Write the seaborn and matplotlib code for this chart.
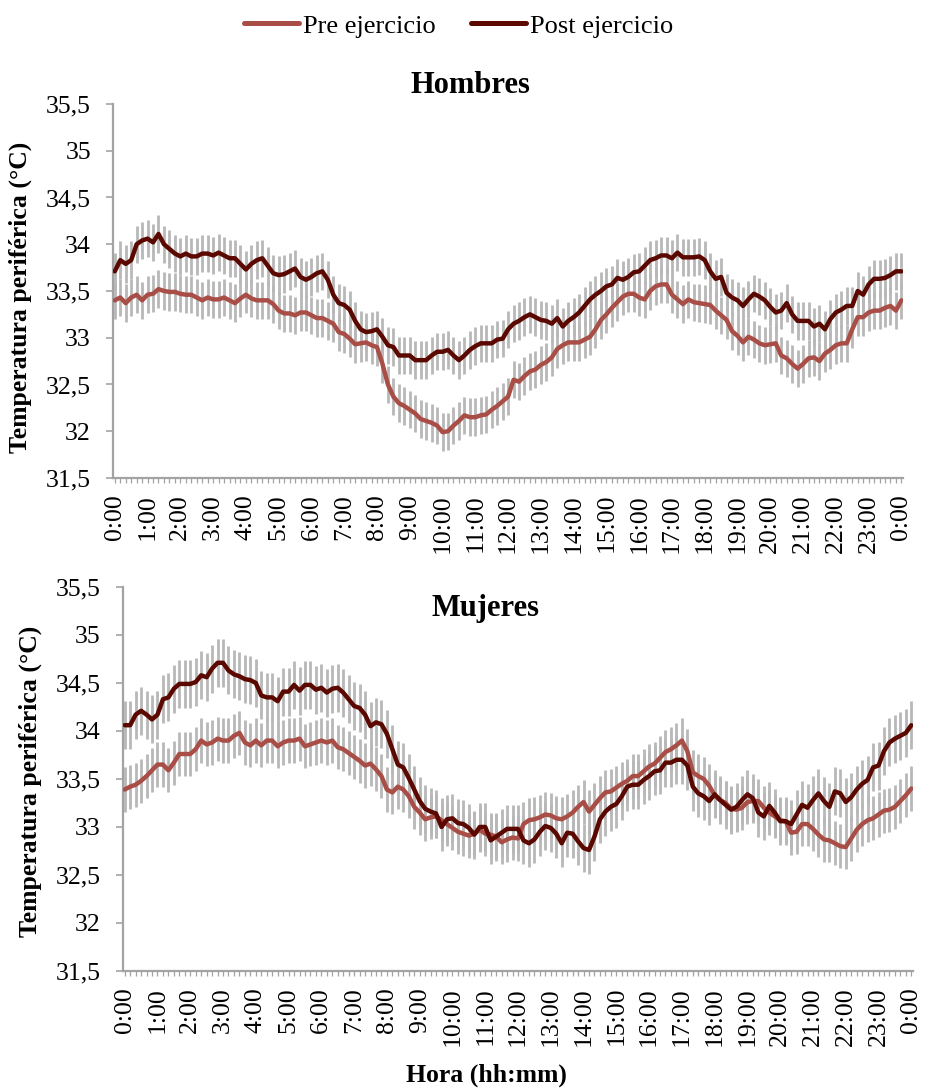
import matplotlib

matplotlib.use("Agg")

import matplotlib.pyplot as plt  # noqa: E402
import numpy as np  # noqa: E402
import pandas as pd  # noqa: E402
import seaborn as sns  # noqa: E402

# --- datos: temperatura periférica media cada 10 min (0:00 a 24:00) ---
hombres_pre = [
    33.40, 33.43, 33.37, 33.43, 33.46, 33.40, 33.46, 33.47, 33.52, 33.50,
    33.49, 33.49, 33.47, 33.46, 33.46, 33.43, 33.40, 33.43, 33.41, 33.41,
    33.43, 33.40, 33.37, 33.42, 33.46, 33.42, 33.40, 33.40, 33.40, 33.36,
    33.29, 33.26, 33.26, 33.24, 33.27, 33.27, 33.24, 33.21, 33.21, 33.18,
    33.15, 33.06, 33.04, 32.99, 32.93, 32.94, 32.95, 32.92, 32.90, 32.72,
    32.50, 32.37, 32.30, 32.27, 32.23, 32.19, 32.13, 32.11, 32.09, 32.06,
    31.99, 32.00, 32.06, 32.11, 32.17, 32.15, 32.15, 32.17, 32.18, 32.23,
    32.27, 32.32, 32.37, 32.55, 32.53, 32.59, 32.64, 32.66, 32.71, 32.74,
    32.79, 32.88, 32.92, 32.95, 32.95, 32.95, 32.98, 33.01, 33.09, 33.19,
    33.25, 33.32, 33.38, 33.44, 33.47, 33.47, 33.43, 33.41, 33.50, 33.55,
    33.57, 33.57, 33.46, 33.41, 33.36, 33.41, 33.38, 33.37, 33.36, 33.35,
    33.29, 33.24, 33.19, 33.07, 33.02, 32.95, 33.01, 32.98, 32.94, 32.92,
    32.93, 32.94, 32.81, 32.78, 32.72, 32.67, 32.72, 32.78, 32.79, 32.75,
    32.83, 32.87, 32.92, 32.94, 32.94, 33.09, 33.22, 33.22, 33.27, 33.29,
    33.29, 33.32, 33.34, 33.29, 33.40,
]
hombres_post = [
    33.71, 33.83, 33.79, 33.83, 34.00, 34.04, 34.06, 34.02, 34.11, 34.00,
    33.95, 33.90, 33.87, 33.90, 33.87, 33.87, 33.90, 33.90, 33.88, 33.91,
    33.88, 33.85, 33.85, 33.79, 33.73, 33.79, 33.83, 33.85, 33.77, 33.69,
    33.67, 33.68, 33.71, 33.74, 33.65, 33.62, 33.65, 33.69, 33.71, 33.62,
    33.46, 33.37, 33.35, 33.30, 33.18, 33.09, 33.06, 33.07, 33.09, 33.01,
    32.92, 32.90, 32.81, 32.81, 32.81, 32.76, 32.76, 32.76, 32.81, 32.85,
    32.85, 32.87, 32.81, 32.76, 32.81, 32.87, 32.91, 32.94, 32.94, 32.94,
    32.98, 32.99, 33.09, 33.15, 33.18, 33.22, 33.25, 33.22, 33.19, 33.18,
    33.15, 33.21, 33.12, 33.18, 33.22, 33.27, 33.34, 33.41, 33.46, 33.50,
    33.55, 33.57, 33.64, 33.62, 33.65, 33.70, 33.71, 33.77, 33.83, 33.85,
    33.88, 33.88, 33.85, 33.91, 33.86, 33.86, 33.86, 33.87, 33.83, 33.71,
    33.63, 33.65, 33.48, 33.43, 33.40, 33.34, 33.41, 33.47, 33.44, 33.40,
    33.33, 33.27, 33.29, 33.37, 33.25, 33.18, 33.18, 33.18, 33.12, 33.15,
    33.09, 33.20, 33.27, 33.30, 33.34, 33.34, 33.50, 33.46, 33.57, 33.63,
    33.63, 33.64, 33.67, 33.71, 33.71,
]
mujeres_pre = [
    33.39, 33.42, 33.44, 33.48, 33.53, 33.59, 33.65, 33.65, 33.59, 33.67,
    33.76, 33.76, 33.76, 33.81, 33.90, 33.86, 33.88, 33.92, 33.90, 33.90,
    33.95, 33.98, 33.88, 33.85, 33.90, 33.85, 33.90, 33.90, 33.84, 33.88,
    33.90, 33.90, 33.92, 33.84, 33.86, 33.88, 33.90, 33.88, 33.90, 33.83,
    33.81, 33.77, 33.73, 33.69, 33.64, 33.66, 33.60, 33.53, 33.39, 33.36,
    33.42, 33.39, 33.32, 33.21, 33.15, 33.08, 33.10, 33.11, 33.07, 33.03,
    32.99, 32.95, 32.93, 32.91, 32.93, 32.97, 32.93, 32.92, 32.90, 32.84,
    32.87, 32.89, 32.88, 33.03, 33.07, 33.08, 33.10, 33.13, 33.12, 33.09,
    33.08, 33.11, 33.15, 33.21, 33.26, 33.16, 33.23, 33.30, 33.36, 33.37,
    33.41, 33.45, 33.48, 33.53, 33.53, 33.58, 33.63, 33.66, 33.72, 33.78,
    33.81, 33.85, 33.90, 33.79, 33.57, 33.53, 33.50, 33.43, 33.33, 33.28,
    33.25, 33.19, 33.18, 33.20, 33.26, 33.27, 33.27, 33.20, 33.15, 33.11,
    33.07, 33.06, 32.94, 32.95, 33.03, 33.03, 32.98, 32.92, 32.87, 32.86,
    32.83, 32.80, 32.79, 32.88, 32.97, 33.03, 33.07, 33.09, 33.13, 33.17,
    33.18, 33.21, 33.27, 33.33, 33.40,
]
mujeres_post = [
    34.06, 34.06, 34.17, 34.21, 34.17, 34.12, 34.17, 34.33, 34.35, 34.44,
    34.49, 34.49, 34.49, 34.51, 34.58, 34.56, 34.65, 34.71, 34.71, 34.63,
    34.59, 34.57, 34.54, 34.53, 34.50, 34.37, 34.35, 34.35, 34.31, 34.41,
    34.41, 34.48, 34.42, 34.48, 34.48, 34.43, 34.45, 34.40, 34.44, 34.45,
    34.40, 34.33, 34.26, 34.24, 34.17, 34.05, 34.09, 34.07, 33.97, 33.81,
    33.65, 33.62, 33.51, 33.39, 33.27, 33.19, 33.16, 33.14, 33.00, 33.08,
    33.09, 33.04, 33.03, 32.99, 32.92, 33.00, 33.00, 32.86, 32.90, 32.94,
    32.98, 32.98, 32.98, 32.86, 32.83, 32.87, 32.95, 33.01, 32.99, 32.93,
    32.83, 32.94, 32.93, 32.85, 32.78, 32.76, 32.90, 33.08, 33.16, 33.21,
    33.24, 33.32, 33.42, 33.44, 33.44, 33.49, 33.53, 33.58, 33.59, 33.67,
    33.67, 33.70, 33.70, 33.64, 33.42, 33.35, 33.32, 33.27, 33.34, 33.28,
    33.23, 33.18, 33.21, 33.28, 33.34, 33.30, 33.15, 33.11, 33.22, 33.15,
    33.06, 33.06, 33.03, 33.13, 33.23, 33.20, 33.28, 33.35, 33.27, 33.21,
    33.37, 33.35, 33.26, 33.31, 33.39, 33.45, 33.49, 33.62, 33.64, 33.79,
    33.88, 33.92, 33.95, 33.98, 34.06,
]

# Error estándar (barras grises), aprox. constante por serie
ee_hombres_pre = 0.20
ee_hombres_post = 0.20
ee_mujeres_pre = 0.23
ee_mujeres_post = 0.25

series = ["Pre ejercicio", "Post ejercicio"]
etiquetas_hora = [f"{h % 24}:00" for h in range(25)]
y_ticks = [31.5, 32, 32.5, 33, 33.5, 34, 34.5, 35, 35.5]

colores = {"Pre ejercicio": "#a94e47", "Post ejercicio": "#5b0801"}
gris_eje = "#a3a3a3"
gris_barra = "#b8b8b8"

sns.set_style("ticks")
plt.rcParams["font.family"] = ["Liberation Serif", "DejaVu Serif"]
# texto en negro puro, como el original
for clave in ("text.color", "axes.labelcolor", "xtick.labelcolor", "ytick.labelcolor"):
    plt.rcParams[clave] = "black"

fig = plt.figure(figsize=(9.26, 10.89), dpi=100)
ax_h = fig.add_axes([0.1222, 0.5611, 0.8530, 0.3434])
ax_m = fig.add_axes([0.1329, 0.1084, 0.8530, 0.3526])

paneles = [
    (ax_h, hombres_pre, hombres_post, ee_hombres_pre, ee_hombres_post),
    (ax_m, mujeres_pre, mujeres_post, ee_mujeres_pre, ee_mujeres_post),
]

for ax, pre, post, ee_pre, ee_post in paneles:
    pasos = np.arange(len(pre))
    df = pd.DataFrame({
        "paso": np.concatenate([pasos, pasos]),
        "temp": pre + post,
        "serie": [series[0]] * len(pre) + [series[1]] * len(post),
    })
    # barras de error detrás de las líneas
    ax.errorbar(pasos, pre, yerr=ee_pre, fmt="none", ecolor=gris_barra,
                elinewidth=2.0, capsize=0, zorder=1)
    ax.errorbar(pasos, post, yerr=ee_post, fmt="none", ecolor=gris_barra,
                elinewidth=2.0, capsize=0, zorder=1)
    sns.lineplot(data=df, x="paso", y="temp", hue="serie", hue_order=series,
                 palette=colores, linewidth=3.2, ax=ax, zorder=3,
                 legend=(ax is ax_h))

    ax.set_xlim(-0.3, 144.3)
    ax.set_ylim(31.5, 35.5)
    ax.set_yticks(y_ticks)
    ax.set_yticklabels([f"{v:g}".replace(".", ",") for v in y_ticks])
    ax.set_xticks(np.arange(0, 145, 6))
    ax.set_xticklabels(etiquetas_hora, rotation=90)
    ax.set_xticks(pasos, minor=True)
    ax.set_xlabel("")
    ax.set_ylabel("")
    sns.despine(ax=ax)
    for lado in ("left", "bottom"):
        ax.spines[lado].set_color(gris_eje)
        ax.spines[lado].set_linewidth(1.6)
    ax.tick_params(axis="y", length=5, width=1.2, color=gris_eje,
                   labelsize=18.5, labelcolor="black", pad=11, left=True)
    ax.tick_params(axis="x", which="both", length=3.5, width=0.9,
                   color=gris_eje, labelsize=18.5, labelcolor="black",
                   pad=8, bottom=True)

handles, labels = ax_h.get_legend_handles_labels()
ax_h.get_legend().remove()
for h in handles:
    h.set_linewidth(3.6)
fig.legend(handles, labels, loc="center", bbox_to_anchor=(0.495, 1 - 26 / 1089),
           ncol=2, frameon=False, fontsize=19, handlelength=2.1,
           handletextpad=0.12, columnspacing=1.35, labelcolor="black")

fig.text(470 / 926, 1 - 93 / 1089, "Hombres", ha="center", va="baseline",
         fontsize=22, fontweight="bold", color="black")
fig.text(486 / 926, 1 - 616 / 1089, "Mujeres", ha="center", va="baseline",
         fontsize=22, fontweight="bold", color="black")
fig.text(20 / 926, 1 - 297 / 1089, "Temperatura periférica (°C)", rotation=90,
         ha="center", va="center", fontsize=18.5, fontweight="bold", color="black")
fig.text(30 / 926, 1 - 781 / 1089, "Temperatura periférica (°C)", rotation=90,
         ha="center", va="center", fontsize=18.5, fontweight="bold", color="black")
fig.text(486 / 926, 1 - 1075 / 1089, "Hora (hh:mm)", ha="center", va="center",
         fontsize=18.5, fontweight="bold", color="black")

fig.savefig("out.png", dpi=100)
plt.close(fig)
